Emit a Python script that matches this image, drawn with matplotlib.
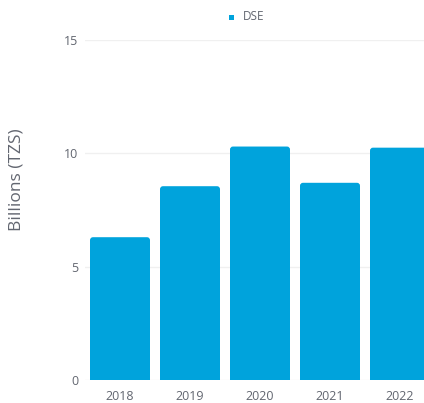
import matplotlib
matplotlib.use("Agg")
import matplotlib.pyplot as plt
from matplotlib.patches import FancyBboxPatch, Rectangle

years = ["2018", "2019", "2020", "2021", "2022"]
dse_values = [6.3, 8.55, 10.3, 8.7, 10.25]
y_ticks = [0, 5, 10, 15]

BAR_COLOR = "#00A3DC"
TEXT_COLOR = "#626670"

plt.rcParams["font.family"] = ["Open Sans", "DejaVu Sans"]

W, H = 424, 403
fig = plt.figure(figsize=(W / 100, H / 100), dpi=100)

# plot area is wider than the canvas, so the last band runs off the right edge
left_px, right_px = 85, 435
bottom_px, top_px = 380, 40
ax = fig.add_axes([left_px / W, (H - bottom_px) / H,
                   (right_px - left_px) / W, (bottom_px - top_px) / H])

x = list(range(len(years)))
bar_w = 0.857
bars = ax.bar(x, dse_values, width=bar_w, color=BAR_COLOR, zorder=2)

# rounded top corners
px_x = (len(years)) / (right_px - left_px)
px_y = 15 / (bottom_px - top_px)
r = 3 * px_x
aspect = px_y / px_x
for b in bars:
    b.set_visible(False)
    x0, h = b.get_x(), b.get_height()
    ax.add_patch(FancyBboxPatch((x0, 0), bar_w, h,
                                boxstyle=f"round,pad=0,rounding_size={r}",
                                mutation_aspect=aspect, linewidth=0,
                                facecolor=BAR_COLOR, zorder=2))
    ax.add_patch(Rectangle((x0, 0), bar_w, h / 2, linewidth=0,
                           facecolor=BAR_COLOR, zorder=2))

ax.set_xlim(-0.5, len(years) - 0.5)
ax.set_ylim(0, 15)
ax.set_xticks(x)
ax.set_xticklabels(years)
ax.set_yticks(y_ticks)
ax.yaxis.grid(True, color="#f0f0f0", linewidth=1, zorder=0)
ax.set_axisbelow(True)
for s in ax.spines.values():
    s.set_visible(False)
ax.tick_params(axis="both", length=0, labelsize=9, colors=TEXT_COLOR)
ax.tick_params(axis="x", pad=7)
ax.tick_params(axis="y", pad=5)

fig.text(17 / W, 1 - 180 / H, "Billions (TZS)", rotation=90, ha="center",
         va="center", fontsize=12.5, color=TEXT_COLOR)

# legend
fig.patches.append(Rectangle((229 / W, 1 - 20 / H), 5 / W, 5 / H,
                             transform=fig.transFigure, facecolor=BAR_COLOR,
                             edgecolor="none"))
fig.text(243 / W, 1 - 17 / H, "DSE", ha="left", va="center",
         fontsize=8.5, color=TEXT_COLOR)

fig.savefig("out.png", dpi=100)
